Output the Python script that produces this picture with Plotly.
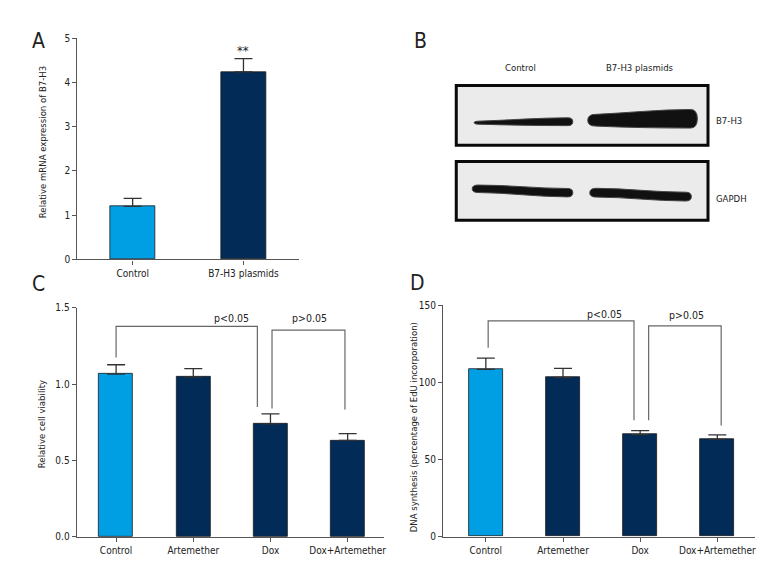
import plotly.graph_objects as go

# --- data ---
a_groups = ["Control", "B7-H3 plasmids"]
a_values = [1.2, 4.24]
a_errors = [0.18, 0.3]

c_groups = ["Control", "Artemether", "Dox", "Dox+Artemether"]
c_values = [1.065, 1.046, 0.74, 0.632]
c_errors = [0.062, 0.056, 0.065, 0.044]

d_groups = ["Control", "Artemether", "Dox", "Dox+Artemether"]
d_values = [108.3, 103.1, 66.1, 63.2]
d_errors = [7.4, 5.9, 2.5, 2.7]

blot_lanes = ["Control", "B7-H3 plasmids"]
blot_rows = ["B7-H3", "GAPDH"]

# --- style ---
W, H = 780, 576
FONT = "DejaVu Sans Condensed, Liberation Sans Narrow, Liberation Sans, sans-serif"
LIGHT = "#009fe3"
NAVY = "#032b57"
AXIS = "#555555"


def fx(p):
    return p / W


def fy(p):
    return 1 - p / H


def colors(groups):
    return [LIGHT if g == "Control" else NAVY for g in groups]


fig = go.Figure()


def add_bars(groups, values, errors, xa, ya, width):
    fig.add_trace(go.Bar(
        x=list(range(len(groups))), y=values, width=width,
        marker=dict(color=colors(groups), line=dict(color="#1a1a1a", width=0.8)),
        error_y=dict(type="data", array=errors, arrayminus=[0] * len(errors),
                     symmetric=False, color="#333333", thickness=1.3, width=9),
        xaxis=xa, yaxis=ya, showlegend=False))


add_bars(a_groups, a_values, a_errors, "x", "y", 0.41)
add_bars(c_groups, c_values, c_errors, "x2", "y2", 0.44)
add_bars(d_groups, d_values, d_errors, "x3", "y3", 0.44)

# significance brackets: (x_left, x_right, top, left_bottom, right_bottom)
c_brackets = [(0, 1.83, 1.378, 1.175, 0.851), (2.02, 2.965, 1.353, 0.84, 0.834)]
d_brackets = [(0.03, 1.92, 139.8, 122.4, 75.4), (2.11, 3.05, 136.6, 75.4, 72.0)]
for brs, xa, ya in [(c_brackets, "x2", "y2"), (d_brackets, "x3", "y3")]:
    for x0, x1, top, b0, b1 in brs:
        fig.add_trace(go.Scatter(
            x=[x0, x0, x1, x1], y=[b0, top, top, b1], mode="lines",
            line=dict(color="#666666", width=1.2), xaxis=xa, yaxis=ya,
            showlegend=False, hoverinfo="skip"))

tick_font = dict(family=FONT, size=10, color="#222222")
common = dict(showline=True, linecolor=AXIS, linewidth=1.2, ticks="outside",
              ticklen=4, tickcolor=AXIS, showgrid=False, zeroline=False,
              tickfont=tick_font)

fig.update_layout(
    width=W, height=H, margin=dict(l=0, r=0, t=0, b=0),
    paper_bgcolor="white", plot_bgcolor="rgba(0,0,0,0)",
    bargap=0,
    xaxis=dict(common, domain=[fx(69.5), fx(292)], range=[-0.5, 1.5],
               tickvals=list(range(len(a_groups))), ticktext=a_groups, anchor="y"),
    yaxis=dict(common, domain=[fy(250.7), fy(24.7)], range=[0, 5],
               tickvals=[0, 1, 2, 3, 4, 5], anchor="x"),
    xaxis2=dict(common, domain=[fx(69), fx(377)], range=[-0.51, 3.465],
                tickvals=list(range(len(c_groups))), ticktext=c_groups, anchor="y2"),
    yaxis2=dict(common, domain=[fy(534), fy(300)], range=[0, 1.5],
                tickvals=[0, 0.5, 1.0, 1.5], tickformat=".1f", anchor="x2"),
    xaxis3=dict(common, domain=[fx(436.7), fx(750)], range=[-0.555, 3.49],
                tickvals=list(range(len(d_groups))), ticktext=d_groups, anchor="y3"),
    yaxis3=dict(common, domain=[fy(533.7), fy(297.3)], range=[0, 150],
                tickvals=[0, 50, 100, 150], anchor="x3"),
)

ann = []


def label(text, x, y, size=9.5, **kw):
    d = dict(text=text, x=fx(x), y=fy(y), xref="paper", yref="paper",
             xanchor="center", yanchor="middle", showarrow=False,
             font=dict(family=FONT, size=size, color="#222222"))
    d.update(kw)
    ann.append(d)


# panel letters
for letter, x, y in [("A", 31, 28), ("B", 414, 28), ("C", 31, 276), ("D", 411, 275)]:
    label(letter, x, y, size=21)
# y titles
for text, x, y in [("Relative mRNA expression of B7-H3", 34, 131),
                   ("Relative cell viability", 33, 419),
                   ("DNA synthesis (percentage of EdU incorporation)", 406.7, 422)]:
    label(text, x, y, textangle=-90)
# significance marks
ann.append(dict(text="**", x=1, y=4.72, xref="x", yref="y", showarrow=False,
                font=dict(family=FONT, size=13, color="#222222")))
for text, x, y, xa, ya in [("p<0.05", 1.49, 1.43, "x2", "y2"), ("p>0.05", 2.51, 1.43, "x2", "y2"),
                           ("p<0.05", 1.54, 144.5, "x3", "y3"), ("p>0.05", 2.6, 143.5, "x3", "y3")]:
    ann.append(dict(text=text, x=x, y=y, xref=xa, yref=ya, showarrow=False,
                    font=dict(family=FONT, size=10.5, color="#222222")))

# --- panel B: western blot drawn as shapes ---
lane_x = [514, 634.3]
for name, x in zip(blot_lanes, lane_x):
    label(name, x, 55)
for name, y in zip(blot_rows, [109, 188]):
    label(name, 709, y, xanchor="left")

shapes = []
for y0, y1 in [(73, 134), (150.7, 210.7)]:
    shapes.append(dict(type="rect", xref="paper", yref="paper",
                       x0=fx(450), x1=fx(702.7), y0=fy(y1), y1=fy(y0),
                       fillcolor="#ebebeb", line=dict(color="#0a0a0a", width=3)))

# band outlines: x0, x1, left centre, left half thickness, right centre, right half thickness
bands = [(468, 567, 111, 1.5, 110, 4.0),
         (582, 692, 108.5, 6, 107, 9.5),
         (466, 567, 178.5, 3.8, 182.5, 4.3),
         (584, 686, 182.5, 4.5, 186.5, 4.5)]


def band_path(x0, x1, c0, h0, c1, h1):
    r0 = h0 + 2
    r1 = min(7, h1 + 1)
    L = x1 - x0
    pts = [
        ("M", [(x0 + r0, c0 - h0)]),
        ("C", [(x0 + 0.35 * L, c0 - h0 - 0.4 * (h1 - h0)), (x1 - 0.35 * L, c1 - h1), (x1 - r1, c1 - h1)]),
        ("Q", [(x1, c1 - h1), (x1, c1)]),
        ("Q", [(x1, c1 + h1), (x1 - r1, c1 + h1)]),
        ("C", [(x1 - 0.35 * L, c1 + h1), (x0 + 0.35 * L, c0 + h0 + 0.4 * (h1 - h0)), (x0 + r0, c0 + h0)]),
        ("Q", [(x0, c0 + h0), (x0, c0)]),
        ("Q", [(x0, c0 - h0), (x0 + r0, c0 - h0)]),
    ]
    s = ""
    for cmd, ps in pts:
        s += cmd + " " + " ".join(f"{fx(px):.5f},{fy(py):.5f}" for px, py in ps) + " "
    return s + "Z"


for b in bands:
    shapes.append(dict(type="path", xref="paper", yref="paper", path=band_path(*b),
                       fillcolor="#111111", line=dict(color="#444444", width=1)))

fig.update_layout(annotations=ann, shapes=shapes)
fig.write_html("out.html")
